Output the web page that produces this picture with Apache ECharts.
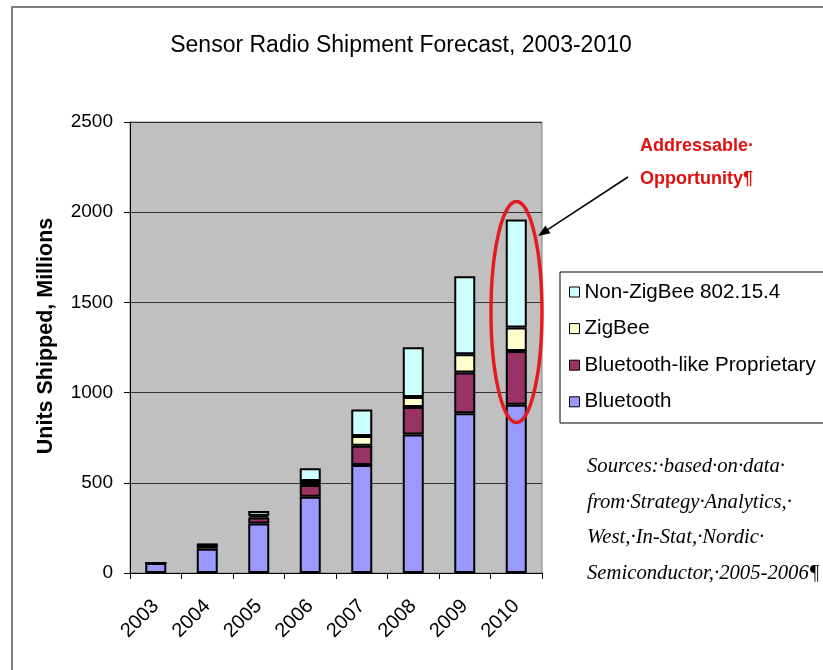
<!DOCTYPE html>
<html>
<head>
<meta charset="utf-8">
<script src="https://cdn.jsdelivr.net/npm/echarts@6/dist/echarts.min.js"></script>
<style>
  html, body { margin: 0; padding: 0; background: #fff; }
  #chart { width: 823px; height: 670px; }
</style>
</head>
<body>
<div id="chart"></div>
<script>
// Shipment forecast, millions of units per year
var years = ['2003', '2004', '2005', '2006', '2007', '2008', '2009', '2010'];
var bluetooth = [55, 135, 275, 423, 598, 768, 885, 932];
var btLikeProprietary = [0, 20, 33, 65, 107, 152, 227, 298];
var zigbee = [0, 2, 10, 22, 54, 55, 101, 131];
var nonZigbee = [0, 2, 25, 70, 148, 277, 432, 598];
var yTicks = { min: 0, max: 2500, step: 500 };

var SANS = 'Liberation Sans, Arial, sans-serif';
var SERIF = 'Liberation Serif, Times New Roman, serif';

function stackSeries(name, data, color) {
  return {
    name: name,
    type: 'bar',
    stack: 'units',
    barWidth: 21,
    data: data,
    itemStyle: { color: color, borderColor: '#000', borderWidth: 2 },
    emphasis: { disabled: true }
  };
}

var chart = echarts.init(document.getElementById('chart'), null, { renderer: 'canvas' });

chart.setOption({
  animation: false,
  backgroundColor: '#fff',
  title: {
    text: 'Sensor Radio Shipment Forecast, 2003-2010',
    left: 401,
    top: 34,
    padding: 0,
    textAlign: 'center',
    textStyle: { fontFamily: SANS, fontSize: 23, fontWeight: 'normal', color: '#000' }
  },
  grid: {
    left: 130, right: 281, top: 122, bottom: 97,
    show: true, backgroundColor: '#c0c0c0', borderColor: '#808080', borderWidth: 1,
    containLabel: false
  },
  legend: {
    orient: 'vertical',
    left: 569,
    top: 281,
    padding: 0,
    itemWidth: 10,
    itemHeight: 10,
    itemGap: 14.6,
    icon: 'rect',
    itemStyle: { borderColor: '#000', borderWidth: 1 },
    textStyle: { fontFamily: SANS, fontSize: 20.6, lineHeight: 22, color: '#000' },
    data: ['Non-ZigBee 802.15.4', 'ZigBee', 'Bluetooth-like Proprietary', 'Bluetooth']
  },
  xAxis: {
    type: 'category',
    data: years,
    axisLine: { lineStyle: { color: '#000', width: 1 } },
    axisTick: { show: true, length: 6, lineStyle: { color: '#000' } },
    axisLabel: { rotate: 45, margin: 30, fontFamily: SANS, fontSize: 20, color: '#000' }
  },
  yAxis: {
    type: 'value',
    min: yTicks.min,
    max: yTicks.max,
    interval: yTicks.step,
    axisLine: { show: true, lineStyle: { color: '#000', width: 1 } },
    axisTick: { show: true, length: 6, lineStyle: { color: '#000' } },
    axisLabel: { margin: 17, fontFamily: SANS, fontSize: 19, color: '#000',
                 formatter: function (v) { return String(v); } },
    splitLine: { show: true, lineStyle: { color: '#333', width: 1 } }
  },
  series: [
    stackSeries('Bluetooth', bluetooth, '#9999ff'),
    stackSeries('Bluetooth-like Proprietary', btLikeProprietary, '#993366'),
    stackSeries('ZigBee', zigbee, '#ffffcc'),
    stackSeries('Non-ZigBee 802.15.4', nonZigbee, '#ccffff')
  ],
  graphic: [
    // page frame
    { type: 'rect', z: -10, silent: true,
      shape: { x: 12, y: 7, width: 900, height: 900 },
      style: { fill: 'none', stroke: '#808080', lineWidth: 2 } },
    // y axis title
    { type: 'text', silent: true, x: 46, y: 336, rotation: Math.PI / 2,
      style: { text: 'Units Shipped, Millions', fontFamily: SANS, fontSize: 21.5, fontWeight: 'bold',
               fill: '#000', align: 'center', verticalAlign: 'middle' } },
    // legend frame
    { type: 'rect', silent: true, z: -1,
      shape: { x: 560, y: 272, width: 300, height: 151 },
      style: { fill: '#fff', stroke: '#000', lineWidth: 1 } },
    // highlight around the 2010 column
    { type: 'ellipse', silent: true, z: 100,
      shape: { cx: 516.5, cy: 312, rx: 25.5, ry: 110.5 },
      style: { fill: 'none', stroke: '#e31b23', lineWidth: 3.5 } },
    // callout arrow
    { type: 'line', silent: true, z: 100,
      shape: { x1: 628, y1: 177, x2: 548, y2: 229.4 },
      style: { stroke: '#000', lineWidth: 1.5 } },
    { type: 'polygon', silent: true, z: 100,
      shape: { points: [[538, 236], [550.5, 233.2], [545.5, 225.6]] },
      style: { fill: '#000' } },
    // callout label
    { type: 'text', silent: true, x: 640, y: 129.5,
      style: { text: 'Addressable·\nOpportunity¶', fontFamily: SANS, fontSize: 18, fontWeight: 'bold',
               lineHeight: 33.3, fill: '#e01010' } },
    // source note
    { type: 'text', silent: true, x: 587, y: 449,
      style: { text: 'Sources:·based·on·data·\nfrom·Strategy·Analytics,·\nWest,·In-Stat,·Nordic·\nSemiconductor,·2005-2006¶',
               fontFamily: SERIF, fontSize: 20.7, fontStyle: 'italic', lineHeight: 35.6, fill: '#000' } }
  ]
});
</script>
</body>
</html>
